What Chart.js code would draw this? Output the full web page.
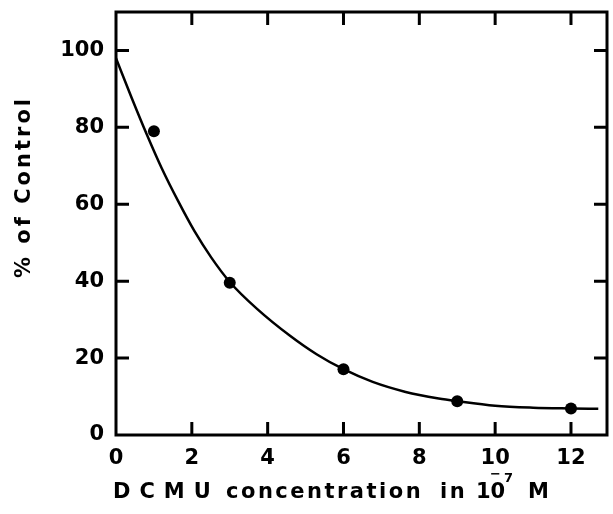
<!DOCTYPE html>
<html>
<head>
<meta charset="utf-8">
<script src="https://cdn.jsdelivr.net/npm/chart.js@4"></script>
<style>
  body { margin: 0; background: #fff; }
  #wrap { width: 613px; height: 514px; }
</style>
</head>
<body>
<div id="wrap"><canvas id="chart" width="613" height="514"></canvas></div>
<script>
// measured points (DCMU concentration, % of control)
const pointX = [1, 3, 6, 9, 12];
const pointY = [79, 39.6, 17.1, 8.8, 6.9];

// fitted curve
const curveX = [0, 0.42, 0.81, 1.2, 1.64, 2.07, 2.51, 3.0, 3.72, 4.59, 5.29, 6.0, 6.77, 7.64, 8.51, 9.0, 10.0, 11.0, 12.0, 12.72];
const curveY = [98, 87.5, 78.2, 69.5, 60.8, 53.0, 46.2, 39.8, 32.8, 25.8, 21.0, 17.1, 13.8, 11.2, 9.5, 8.8, 7.6, 7.1, 6.9, 6.8];

const xTicks = [0, 2, 4, 6, 8, 10, 12];
const yTicks = [0, 20, 40, 60, 80, 100];

const FONT = '"DejaVu Sans", sans-serif';
const TICK_LEN = 13;

function toXY(xs, ys) {
  return xs.map((x, i) => ({ x, y: ys[i] }));
}

// frame + inward tick marks on all four sides
const framePlugin = {
  id: 'frame',
  afterDatasetsDraw(chart) {
    const { ctx, chartArea: a, scales } = chart;
    ctx.save();
    ctx.strokeStyle = '#000';
    ctx.lineWidth = 3;
    ctx.strokeRect(a.left, a.top, a.right - a.left, a.bottom - a.top);

    ctx.beginPath();
    xTicks.forEach(v => {
      if (v === 0) return;
      const px = scales.x.getPixelForValue(v);
      ctx.moveTo(px, a.bottom); ctx.lineTo(px, a.bottom - TICK_LEN);
      ctx.moveTo(px, a.top); ctx.lineTo(px, a.top + TICK_LEN);
    });
    yTicks.forEach(v => {
      if (v === 0) return;
      const py = scales.y.getPixelForValue(v);
      ctx.moveTo(a.left, py); ctx.lineTo(a.left + TICK_LEN, py);
      ctx.moveTo(a.right, py); ctx.lineTo(a.right - TICK_LEN, py);
    });
    ctx.stroke();
    ctx.restore();
  }
};

// axis titles (spaced lettering like the original drafting font)
const titlePlugin = {
  id: 'titles',
  afterDraw(chart) {
    const ctx = chart.ctx;
    ctx.save();
    ctx.fillStyle = '#000';
    ctx.textBaseline = 'alphabetic';
    ctx.textAlign = 'left';

    ctx.font = 'bold 21px ' + FONT;
    ctx.letterSpacing = '9px';
    ctx.fillText('DCMU', 113, 498);
    ctx.letterSpacing = '2.5px';
    ctx.fillText('concentration', 226, 498);
    ctx.fillText('in', 440, 498);
    ctx.letterSpacing = '0px';
    ctx.fillText('10', 476, 498);
    ctx.font = 'bold 13px ' + FONT;
    ctx.fillText('\u2212', 490, 478);
    ctx.fillText('7', 504, 482);
    ctx.font = 'bold 21px ' + FONT;
    ctx.fillText('M', 528, 498);

    ctx.translate(30, 187);
    ctx.rotate(-Math.PI / 2);
    ctx.textAlign = 'center';
    ctx.letterSpacing = '3px';
    ctx.fillText('% of Control', 0, 0);
    ctx.restore();
  }
};

const tickFont = { family: FONT, size: 21, weight: 'bold' };

new Chart(document.getElementById('chart'), {
  type: 'scatter',
  data: {
    datasets: [
      {
        label: 'fit',
        data: toXY(curveX, curveY),
        showLine: true,
        cubicInterpolationMode: 'monotone',
        borderColor: '#000',
        borderWidth: 2.5,
        pointRadius: 0
      },
      {
        label: 'measured',
        data: toXY(pointX, pointY),
        showLine: false,
        pointRadius: 6,
        pointBackgroundColor: '#000',
        pointBorderColor: '#000',
        pointBorderWidth: 0
      }
    ]
  },
  options: {
    responsive: false,
    animation: false,
    layout: { padding: { top: 12, right: 1, left: 0, bottom: 0 } },
    plugins: {
      legend: { display: false },
      tooltip: { enabled: false }
    },
    scales: {
      x: {
        type: 'linear',
        min: 0,
        max: 12.95,
        grid: { display: false, drawTicks: false, tickLength: 0 },
        border: { display: false },
        afterFit(scale) {
          scale.height = 79;
          scale.paddingLeft = 0;
          scale.paddingRight = 0;
        },
        afterBuildTicks(scale) { scale.ticks = xTicks.map(v => ({ value: v })); },
        ticks: { color: '#000', padding: 11, font: tickFont }
      },
      y: {
        type: 'linear',
        min: 0,
        max: 110,
        grid: { display: false, drawTicks: false, tickLength: 0 },
        border: { display: false },
        afterFit(scale) {
          scale.width = 116;
          scale.paddingTop = 0;
          scale.paddingBottom = 0;
        },
        afterBuildTicks(scale) { scale.ticks = yTicks.map(v => ({ value: v })); },
        ticks: { color: '#000', padding: 12, font: tickFont }
      }
    }
  },
  plugins: [framePlugin, titlePlugin]
});
</script>
</body>
</html>
